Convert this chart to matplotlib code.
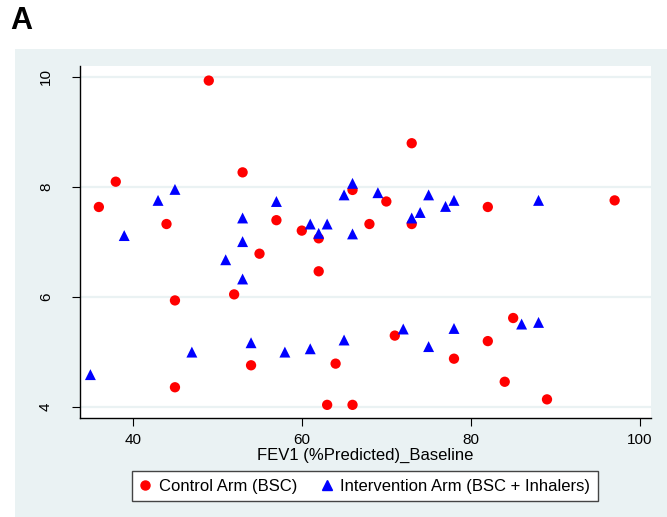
import matplotlib
matplotlib.use("Agg")
import matplotlib.pyplot as plt
from matplotlib.patches import Rectangle
from matplotlib.lines import Line2D

# Control Arm (BSC)
control_x = [49, 53, 38, 36, 44, 55, 57, 60, 62, 66, 73, 70, 82, 97, 73, 68,
             62, 52, 45, 54, 64, 45, 63, 66, 85, 71, 82, 78, 84, 89]
control_y = [9.93, 8.26, 8.09, 7.63, 7.32, 6.78, 7.39, 7.20, 7.06, 7.94, 8.79, 7.73,
             7.63, 7.75, 7.32, 7.32, 6.46, 6.04, 5.93, 4.75, 4.78, 4.35, 4.03, 4.03,
             5.61, 5.29, 5.19, 4.87, 4.45, 4.13]

# Intervention Arm (BSC + Inhalers)
interv_x = [39, 43, 45, 53, 53, 57, 61, 62, 63, 65, 66, 66, 69, 75, 78, 77, 88,
            74, 73, 51, 53, 54, 47, 58, 61, 65, 35, 86, 88, 72, 78, 75]
interv_y = [7.11, 7.75, 7.95, 7.43, 7.00, 7.73, 7.32, 7.15, 7.32, 7.85, 8.06, 7.14,
            7.89, 7.85, 7.75, 7.64, 7.75, 7.53, 7.43, 6.67, 6.32, 5.16, 4.99, 4.99,
            5.05, 5.21, 4.58, 5.50, 5.53, 5.41, 5.42, 5.09]

x_ticks = [40, 60, 80, 100]
y_ticks = [4, 6, 8, 10]
x_label = "FEV1 (%Predicted)_Baseline"
labels = ["Control Arm (BSC)", "Intervention Arm (BSC + Inhalers)"]

plt.rcParams['font.family'] = ['Liberation Sans', 'DejaVu Sans']

W, H = 667, 517
fig = plt.figure(figsize=(W / 100, H / 100), dpi=100)
fig.patch.set_facecolor("white")

bg = "#EAF2F3"
fig.patches.append(Rectangle((15 / W, 0), 1 - 15 / W, 1 - 49 / H,
                             transform=fig.transFigure, facecolor=bg,
                             edgecolor="none", zorder=-5))

fig.text(10 / W, 1 - 21 / H, "A", fontsize=22, fontweight="bold",
         ha="left", va="center")

ax = fig.add_axes([80 / W, 1 - 417.5 / H, (651 - 80) / W, (417.5 - 66) / H])
ax.set_zorder(1)
ax.set_facecolor("white")
ax.set_xlim(33.77, 101.3)
ax.set_ylim(3.80, 10.195)

for y in y_ticks:
    ax.axhline(y, color=bg, lw=1.6, zorder=1)

ax.scatter(control_x, control_y, s=55, marker="o", color="#FF0000",
           edgecolors="none", zorder=3)
ax.scatter(interv_x, interv_y, s=62, marker="^", color="#0000FF",
           edgecolors="none", zorder=3)

ax.set_xticks(x_ticks)
ax.set_yticks(y_ticks)
ax.set_yticklabels([str(v) for v in y_ticks], rotation=90, va="center")
ax.tick_params(axis="both", direction="out", length=5.5, width=0.8,
               labelsize=11, color="black")
ax.tick_params(axis="y", pad=14)
ax.tick_params(axis="x", pad=6)
for s in ["top", "right"]:
    ax.spines[s].set_visible(False)
for s in ["left", "bottom"]:
    ax.spines[s].set_linewidth(1.0)
    ax.spines[s].set_color("black")

ax.set_xlabel(x_label, fontsize=12, labelpad=0)

handles = [
    Line2D([], [], marker="o", linestyle="none", color="#FF0000", markersize=6.5),
    Line2D([], [], marker="^", linestyle="none", color="#0000FF", markersize=7),
]
leg = fig.legend(handles, labels, loc="center", ncol=2,
                 bbox_to_anchor=(365 / W, 1 - 486 / H), fontsize=12,
                 frameon=True, fancybox=False, handlelength=0.7,
                 handletextpad=0.45, columnspacing=1.45, borderpad=0.45,
                 borderaxespad=0)
leg.get_frame().set_edgecolor("#444444")
leg.get_frame().set_linewidth(1.0)
leg.get_frame().set_facecolor("white")
leg.get_frame().set_alpha(1)

fig.savefig("out.png", dpi=100)
